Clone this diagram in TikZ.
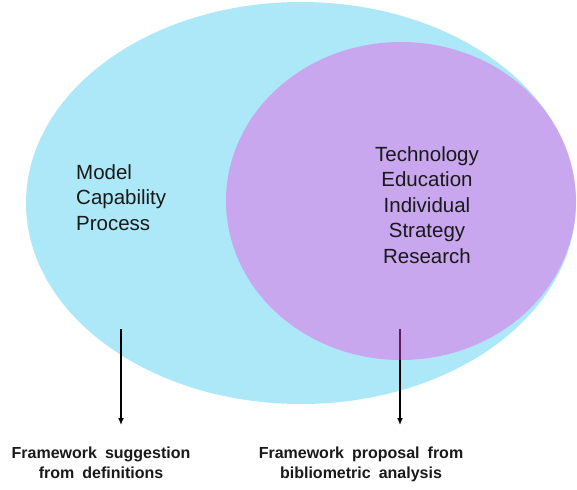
\documentclass[tikz,border=0pt]{standalone}
\usepackage{fontspec}
\setmainfont{Liberation Sans}
\usetikzlibrary{shapes.geometric,arrows.meta}

\definecolor{skyfill}{RGB}{173,232,249}
\definecolor{violetfill}{RGB}{242,70,226}
\definecolor{inktext}{RGB}{25,25,25}

\tikzset{
  blob/.style={ellipse, inner sep=0pt, draw=none},
  termlist/.style={inner sep=0pt, text=inktext, font=\fontsize{20.5}{25.5}\selectfont},
  outcome/.style={inner sep=0pt, align=center, text=inktext, font=\fontsize{16}{20}\selectfont\bfseries},
  leadarrow/.style={draw=black, line width=1.4pt, -{Latex[length=7pt,width=6pt]}}
}

\begin{document}
\begin{tikzpicture}[x=1pt, y=-1pt]
  \useasboundingbox (0,0) rectangle (577,489);

  \node[blob, fill=skyfill, minimum width=550pt, minimum height=402pt] (defs) at (301,203) {};

  \coordinate (a1) at (121,329);
  \coordinate (b1) at (121,425);
  \coordinate (a2) at (400,329);
  \coordinate (b2) at (400,425);
  \draw[leadarrow] (a1) -- (b1);
  \draw[leadarrow] (a2) -- (b2);

  \node[blob, fill=violetfill, fill opacity=0.4, minimum width=350pt, minimum height=318pt] (biblio) at (401,201) {};

  \node[termlist, align=left, anchor=north west] (defterms) at (76,164) {Model\\Capability\\Process};
  \node[termlist, align=center, anchor=north] (bibterms) at (427,146) {Technology\\Education\\Individual\\Strategy\\Research};

  \node[outcome, anchor=north] (sugg) at (101,447) {Framework\enspace suggestion\\from\enspace definitions};
  \node[outcome, anchor=north] (prop) at (361,447) {Framework\enspace proposal\enspace from\\bibliometric\enspace analysis};
\end{tikzpicture}
\end{document}
